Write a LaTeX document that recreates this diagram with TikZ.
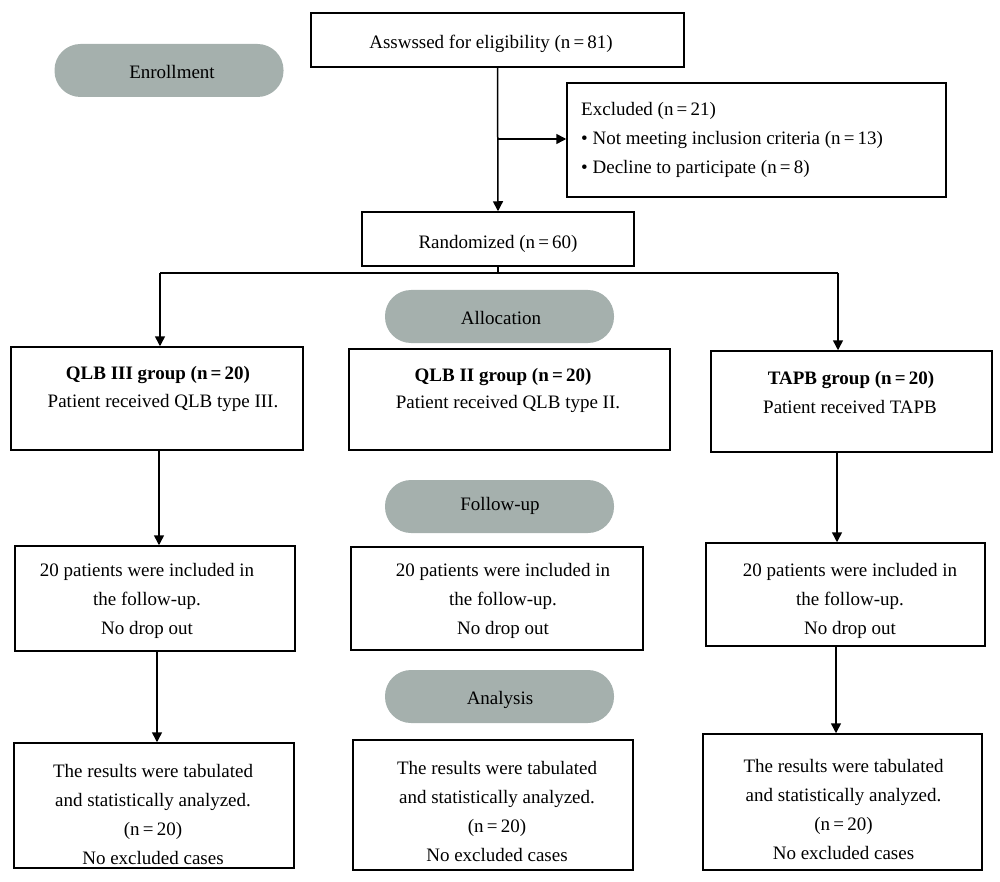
\documentclass[tikz,border=0pt]{standalone}
\usepackage{fontspec}
\setmainfont{Liberation Serif}
\usetikzlibrary{arrows.meta,calc}
\definecolor{pillgray}{RGB}{165,176,173}
\begin{document}
\begin{tikzpicture}[x=1pt,y=-1pt,
  every node/.style={font=\fontsize{19}{29}\selectfont},
  box/.style={draw, line width=1.5pt, inner sep=0pt},
  pill/.style={fill=pillgray, rounded corners=26pt, inner sep=0pt, minimum width=229pt, minimum height=53pt},
  txt/.style={inner sep=0pt, align=center, yshift=-2pt},
  arr/.style={line width=1.5pt, -{Triangle[width=10pt,length=10pt]}},
  ln/.style={line width=1.5pt}]
\useasboundingbox (0,0) rectangle (1000,882);
% stage pills
\node[pill] (penroll) at (169,70.5) {};
\node[txt] (tenroll) at (172,70) {Enrollment};
\node[pill] (palloc) at (499.5,316.5) {};
\node[txt] (talloc) at (501,316) {Allocation};
\node[pill] (pfollow) at (499.5,506.5) {};
\node[txt] (tfollow) at (500,504) {Follow-up};
\node[pill] (panal) at (499.5,696.5) {};
\node[txt] (tanal) at (500,698) {Analysis};
% boxes
\node[box, minimum width=373pt, minimum height=54pt] (assess) at (497.5,40) {};
\node[txt] (tassess) at (491,42) {Asswssed for eligibility (n\,=\,81)};
\node[box, minimum width=379pt, minimum height=114pt] (excl) at (756.5,140) {};
\node[txt, anchor=west, align=left] (texcl) at (581,138) {Excluded (n\,=\,21)\\\textbullet\ Not meeting inclusion criteria (n\,=\,13)\\\textbullet\ Decline to participate (n\,=\,8)};
\node[box, minimum width=272pt, minimum height=54pt] (rand) at (498,239) {};
\node[txt] (trand) at (498,242) {Randomized (n\,=\,60)};
% groups
\node[box, minimum width=292pt, minimum height=103pt] (g1) at (157,398.5) {};
\node[txt] (tg1a) at (158,373) {\bfseries QLB III group (n\,=\,20)};
\node[txt] (tg1b) at (163,401) {Patient received QLB type III.};
\node[box, minimum width=321pt, minimum height=101pt] (g2) at (509.5,399.5) {};
\node[txt] (tg2a) at (503,375) {\bfseries QLB II group (n\,=\,20)};
\node[txt] (tg2b) at (508,402) {Patient received QLB type II.};
\node[box, minimum width=281pt, minimum height=101pt] (g3) at (851.5,401.5) {};
\node[txt] (tg3a) at (851,378) {\bfseries TAPB group (n\,=\,20)};
\node[txt] (tg3b) at (850,405) {Patient received TAPB};
% follow-up
\node[box, minimum width=280pt, minimum height=105pt] (f1) at (155,598.5) {};
\node[txt] (tf1) at (147,599) {20 patients were included in\\the follow-up.\\No drop out};
\node[box, minimum width=292pt, minimum height=103pt] (f2) at (497,598.5) {};
\node[txt] (tf2) at (503,599) {20 patients were included in\\the follow-up.\\No drop out};
\node[box, minimum width=279pt, minimum height=103pt] (f3) at (845.5,594.5) {};
\node[txt] (tf3) at (850,599) {20 patients were included in\\the follow-up.\\No drop out};
% results
\node[box, minimum width=280pt, minimum height=125pt] (r1) at (154,805.5) {};
\node[txt] (tr1) at (153,812) {The results were tabulated\\and statistically analyzed.\\(n\,=\,20)\\No excluded cases};
\node[box, minimum width=280pt, minimum height=130pt] (r2) at (493,805) {};
\node[txt] (tr2) at (497,809.5) {The results were tabulated\\and statistically analyzed.\\(n\,=\,20)\\No excluded cases};
\node[box, minimum width=279pt, minimum height=136pt] (r3) at (842.5,802) {};
\node[txt] (tr3) at (843.5,807.5) {The results were tabulated\\and statistically analyzed.\\(n\,=\,20)\\No excluded cases};
% connectors
\coordinate (jx) at (498,139);
\coordinate (hlL) at (160,273);
\coordinate (hlR) at (838,273);
\coordinate (c1) at (159,0);
\coordinate (c1b) at (157,0);
\coordinate (c3) at (837,0);
\coordinate (c3b) at (836,0);
\draw[arr] (assess.south) -- (rand.north);
\draw[arr] (jx) -- (excl.west |- jx);
\draw[ln] (rand.south) -- (rand.south |- hlL);
\draw[ln] (hlL) -- (hlR);
\draw[arr] (hlL) -- (hlL |- g1.north);
\draw[arr] (hlR) -- (hlR |- g3.north);
\draw[arr] (c1 |- g1.south) -- (c1 |- f1.north);
\draw[arr] (c1b |- f1.south) -- (c1b |- r1.north);
\draw[arr] (c3 |- g3.south) -- (c3 |- f3.north);
\draw[arr] (c3b |- f3.south) -- (c3b |- r3.north);
\end{tikzpicture}
\end{document}
